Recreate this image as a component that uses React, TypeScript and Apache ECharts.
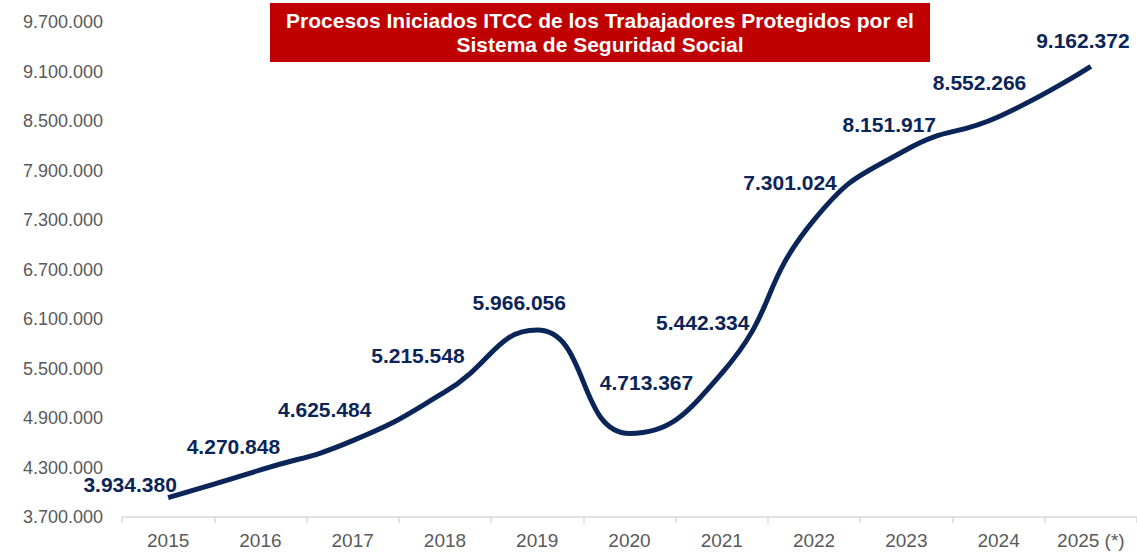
import React, { useEffect, useRef } from "react";
import * as echarts from "echarts";

const categories = ["2015", "2016", "2017", "2018", "2019", "2020", "2021", "2022", "2023", "2024", "2025 (*)"];
const values = [3934380, 4270848, 4625484, 5215548, 5966056, 4713367, 5442334, 7301024, 8151917, 8552266, 9162372];
const labelOffsets: [number, number][] = [
  [-38, -13], [-27, -23], [-28, -31], [-27, -36], [-18, -28], [17, -51],
  [-19, -51], [-24, -37], [-17, -25], [-19, -34], [-8, -26],
];
const titleLines = ["Procesos Iniciados ITCC de los Trabajadores Protegidos por el", "Sistema de Seguridad Social"];

const fmt = (v: number) => String(Math.round(v)).replace(/\B(?=(\d{3})+(?!\d))/g, ".");

export default function App() {
  const ref = useRef<HTMLDivElement>(null);
  useEffect(() => {
    document.body.style.margin = "0";
    const chart = echarts.init(ref.current!, undefined, { renderer: "svg" });
    chart.setOption({
      animation: false,
      backgroundColor: "#ffffff",
      grid: { left: 122, right: 0, top: 22, bottom: 39, containLabel: false },
      xAxis: {
        type: "category",
        data: categories,
        boundaryGap: true,
        axisLine: { show: true, lineStyle: { color: "#d9d9d9", width: 1.5 } },
        axisTick: { show: true, alignWithLabel: false, length: 6, lineStyle: { color: "#d9d9d9", width: 1.5 } },
        axisLabel: { color: "#595959", fontSize: 19, fontFamily: "Liberation Sans, Arial, sans-serif", margin: 14 },
      },
      yAxis: {
        type: "value",
        min: 3700000,
        max: 9700000,
        interval: 600000,
        splitLine: { show: false },
        axisLine: { show: false },
        axisTick: { show: false },
        axisLabel: {
          color: "#595959",
          fontSize: 18,
          fontFamily: "Liberation Sans, Arial, sans-serif",
          margin: 19,
          formatter: (v: number) => fmt(v),
        },
      },
      graphic: [
        {
          type: "group",
          children: [
            { type: "rect", shape: { x: 270, y: 3, width: 660, height: 59 }, style: { fill: "#c00000" } },
            {
              type: "text",
              x: 600,
              y: 20,
              style: {
                text: titleLines[0],
                fill: "#ffffff",
                font: "bold 21px 'Liberation Sans', Arial, sans-serif",
                textAlign: "center",
                textVerticalAlign: "middle",
              },
            },
            {
              type: "text",
              x: 600,
              y: 44,
              style: {
                text: titleLines[1],
                fill: "#ffffff",
                font: "bold 21px 'Liberation Sans', Arial, sans-serif",
                textAlign: "center",
                textVerticalAlign: "middle",
              },
            },
          ],
        },
      ],
      series: [
        {
          type: "line",
          data: values.map((v, i) => ({
            value: v,
            label: { offset: labelOffsets[i] },
          })),
          smooth: 0.5,
          symbol: "circle",
          symbolSize: 0,
          showSymbol: true,
          lineStyle: { color: "#0b2559", width: 5 },
          itemStyle: { color: "#0b2559" },
          label: {
            show: true,
            position: "inside",
            color: "#0b2559",
            fontSize: 21,
            fontWeight: "bold",
            fontFamily: "Liberation Sans, Arial, sans-serif",
            formatter: (p: any) => fmt(p.value),
          },
        },
      ],
    });
    return () => chart.dispose();
  }, []);
  return <div ref={ref} style={{ width: 1137, height: 556 }} />;
}
